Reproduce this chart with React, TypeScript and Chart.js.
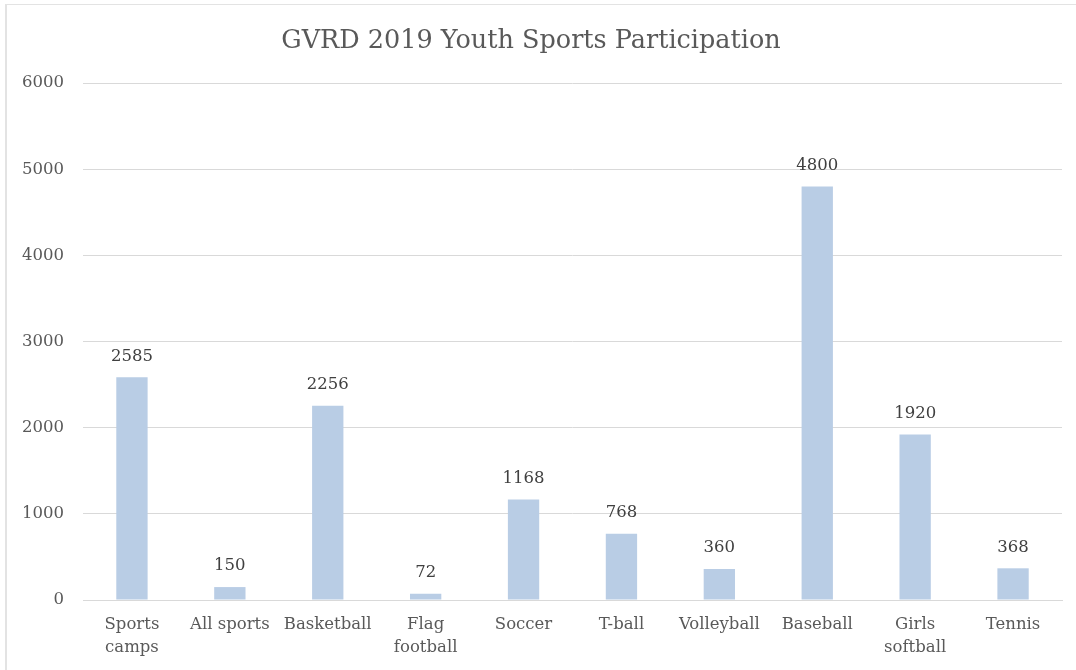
import React, { useEffect, useRef } from "react";
import { Chart, registerables } from "chart.js";

Chart.register(...registerables);

const categories = ["Sports camps", "All sports", "Basketball", "Flag football", "Soccer", "T-ball", "Volleyball", "Baseball", "Girls softball", "Tennis"];
const tickLabels: (string | string[])[] = [["Sports", "camps"], "All sports", "Basketball", ["Flag", "football"], "Soccer", "T-ball", "Volleyball", "Baseball", ["Girls", "softball"], "Tennis"];
const participants = [2585, 150, 2256, 72, 1168, 768, 360, 4800, 1920, 368];
const yTicks = [0, 1000, 2000, 3000, 4000, 5000, 6000];

const FONT = "'DejaVu Serif', serif";

const dataLabelPlugin = {
  id: "dataLabels",
  afterDatasetsDraw(chart: any) {
    const ctx = chart.ctx;
    const meta = chart.getDatasetMeta(0);
    ctx.save();
    ctx.font = `16.5px ${FONT}`;
    ctx.fillStyle = "#404040";
    ctx.textAlign = "center";
    ctx.textBaseline = "middle";
    meta.data.forEach((el: any, i: number) => {
      ctx.fillText(String(participants[i]), el.x, el.y - 21);
    });
    ctx.restore();
  },
};

export default function App() {
  const ref = useRef<HTMLCanvasElement>(null);
  useEffect(() => {
    if (!ref.current) return;
    const chart = new Chart(ref.current, {
      type: "bar",
      data: {
        labels: tickLabels as any,
        datasets: [
          {
            label: "Participants",
            data: participants,
            backgroundColor: "#B9CDE5",
            categoryPercentage: 1,
            barPercentage: 0.32,
          },
        ],
      },
      options: {
        responsive: false,
        animation: false,
        layout: { padding: { left: 0, right: 14, top: 0, bottom: 0 } },
        plugins: {
          legend: { display: false },
          tooltip: { enabled: false },
          title: {
            display: true,
            text: "GVRD 2019 Youth Sports Participation",
            color: "#595959",
            font: { family: FONT, size: 25.5, weight: "normal", lineHeight: 1.2 },
            padding: { top: 26, bottom: 26.5 },
          },
        },
        scales: {
          x: {
            grid: { display: false, drawTicks: false },
            border: { display: true, color: "#D9D9D9", width: 1 },
            ticks: {
              color: "#595959",
              font: { family: FONT, size: 16.5, lineHeight: 1.4 },
              padding: 13,
              maxRotation: 0,
              autoSkip: false,
            },
            afterFit(scale: any) {
              scale.height = 70;
            },
          },
          y: {
            min: 0,
            max: 6000,
            grid: { color: "#D9D9D9", drawTicks: false },
            border: { display: false },
            afterBuildTicks(scale: any) {
              scale.ticks = yTicks.map((v) => ({ value: v }));
            },
            ticks: {
              color: "#595959",
              font: { family: FONT, size: 16.5 },
              padding: 19,
              callback: (v: any) => String(v),
            },
            afterFit(scale: any) {
              scale.width = 83;
            },
          },
        },
      },
      plugins: [dataLabelPlugin],
    });
    return () => chart.destroy();
  }, []);

  return (
    <div style={{ position: "fixed", left: 0, top: 0, width: 1076, height: 670, background: "#fff" }}>
      <div
        style={{
          position: "absolute",
          left: 5,
          top: 4,
          width: 1071,
          height: 666,
          borderTop: "1px solid #E3E3E3",
          borderLeft: "2px solid #E3E3E3",
          boxSizing: "border-box",
        }}
      />
      <canvas ref={ref} width={1076} height={670} style={{ position: "absolute", left: 0, top: 0 }} />
    </div>
  );
}
